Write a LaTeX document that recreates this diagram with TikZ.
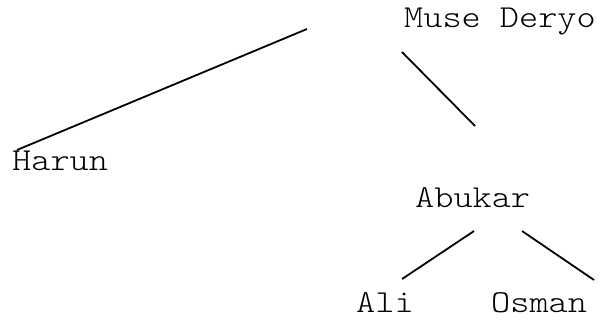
\documentclass[tikz,border=0pt]{standalone}
\usepackage{fontspec}
\setmonofont{Latin Modern Mono Light}[FakeStretch=1.14]
\begin{document}
\begin{tikzpicture}[x=1pt,y=-1pt,
  person/.style={anchor=base west,inner sep=0pt,font=\ttfamily\fontsize{32}{36}\selectfont},
  edge/.style={line width=1.8pt}]
\useasboundingbox (0,0) rectangle (602,328);
% family members
\node[person] (muse)   at (404,28)  {Muse Deryo};
\node[person] (harun)  at (12,171)  {Harun};
\node[person] (abukar) at (415,208) {Abukar};
\node[person] (ali)    at (356,313) {Ali};
\node[person] (osman)  at (491,313) {Osman};
% connector end points
\coordinate (museL)   at (307,29);
\coordinate (museR)   at (402,52);
\coordinate (harunT)  at (17,150);
\coordinate (abukarT) at (475,126);
\coordinate (abukarL) at (474,231);
\coordinate (abukarR) at (522,231);
\coordinate (aliT)    at (402,279);
\coordinate (osmanT)  at (594,280);
% connectors
\draw[edge] (museL) -- (harunT);
\draw[edge] (museR) -- (abukarT);
\draw[edge] (abukarL) -- (aliT);
\draw[edge] (abukarR) -- (osmanT);
\end{tikzpicture}
\end{document}
